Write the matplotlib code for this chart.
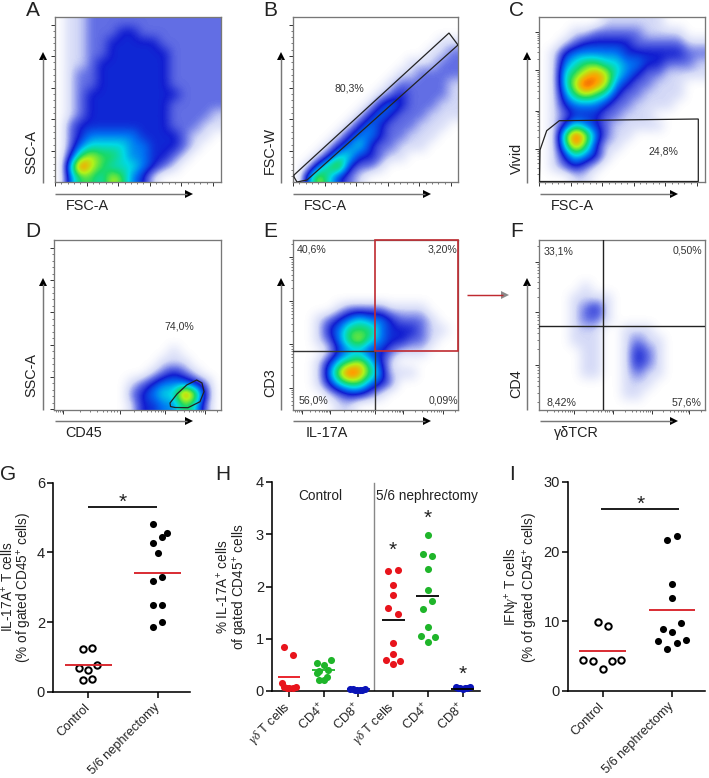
import numpy as np
import matplotlib
matplotlib.use("Agg")
import matplotlib.pyplot as plt
from matplotlib.colors import LinearSegmentedColormap
from matplotlib.patches import Polygon, Rectangle

plt.rcParams['font.family'] = ['Liberation Sans', 'DejaVu Sans']
plt.rcParams['mathtext.fontset'] = 'custom'
plt.rcParams['mathtext.rm'] = 'Liberation Sans'
plt.rcParams['mathtext.it'] = 'Liberation Serif:italic'
plt.rcParams['mathtext.default'] = 'regular'

# ---- flow cytometry density levels (0 empty .. 9 peak)
DENS_A = ["0112222222222222", "0112223322222222", "0112233333222222", "0112233333322222",
          "0112333333322222", "0122333333322222", "0122333333322222", "0123333333332222",
          "0123333333322222", "0123333333322221", "0233333333322211", "0234444433332110",
          "0245555443332100", "0367665443321000", "0597655543210000", "0466576431000000"]
DENS_B = ["0000000000000000", "0000000000000000", "0000000000000011", "0000000000000112",
          "0000000000011122", "0000000000112222", "0000000001222221", "0000000012322221",
          "0000000134322211", "0000001343222111", "0000013432221110", "0000134432211100",
          "0001345322111000", "0013553321100000", "0146732210000000", "0475321000000000"]
DENS_C = ["0000001111110000", "0001122222111100", "0012333332222211", "0134444433333322",
          "0145665544332221", "0156787543221111", "0157987432211100", "0146765322111100",
          "0134443221111000", "0123332211100000", "0135432111110000", "0169742110000000",
          "0158631100000000", "0135431000000000", "0123210000000000", "0001100000000000"]
DENS_D = ["0000000000000000"] * 10 + [
          "0000000000010000", "0000000000111000", "0000000001232100",
          "0000000123444320", "0000000234559730", "0000000133446520"]
DENS_E = ["0000000000000000"] * 6 + [
          "0000122221111000", "0012345443222100", "0013466643332110", "0012467543322100",
          "0001344332111000", "0013567531000000", "0014798641110000", "0013566432000000",
          "0001233210000000", "0000110000000000"]
DENS_F = ["0000000000000000"] * 4 + [
          "0000100000000000", "0001111000000000", "0001231000000000", "0001221000000000",
          "0001110011100000", "0001110012110000", "0000110013210000", "0000110013210000",
          "0000110012110000", "0000000011100000", "0000000011000000", "0000000000000000"]

# ---- panel G
G_ctrl_off = [-0.07, 0.06, -0.14, 0.13, 0.0, -0.07, 0.06]
G_ctrl_val = [1.24, 1.26, 0.68, 0.76, 0.61, 0.33, 0.36]
G_neph_off = [-0.067, 0.135, 0.067, -0.067, 0.0, 0.067, -0.067, -0.067, 0.067, 0.067, -0.067]
G_neph_val = [4.81, 4.55, 4.43, 4.27, 3.98, 3.28, 3.19, 2.50, 2.49, 1.99, 1.85]
G_means = [0.76, 3.40]
G_cats = ["Control", "5/6 nephrectomy"]

# ---- panel H
H_gd_c_off = [-0.14, 0.125, -0.21, -0.14, -0.07, 0.0, 0.125, 0.2]
H_gd_c_val = [0.84, 0.68, 0.16, 0.08, 0.06, 0.06, 0.06, 0.08]
H_cd4_c_off = [-0.2, 0.2, 0.0, -0.13, 0.13, -0.13, 0.0, 0.1, -0.2]
H_cd4_c_val = [0.54, 0.59, 0.50, 0.38, 0.40, 0.22, 0.22, 0.26, 0.34]
H_cd8_c_off = [-0.24, -0.17, -0.10, -0.03, 0.04, 0.11, 0.20]
H_cd8_c_val = [0.04, 0.03, 0.02, 0.02, 0.01, 0.02, 0.04]
H_gd_n_off = [-0.14, 0.13, 0.0, 0.0, -0.14, 0.13, 0.0, 0.0, -0.21, 0.19, 0.0]
H_gd_n_val = [2.30, 2.31, 2.03, 1.84, 1.58, 1.48, 0.92, 0.70, 0.59, 0.58, 0.51]
H_cd4_n_off = [0.0, -0.13, 0.13, 0.0, 0.0, 0.13, -0.13, 0.0, -0.2, 0.2, 0.0]
H_cd4_n_val = [2.99, 2.63, 2.58, 2.33, 1.93, 1.72, 1.56, 1.22, 1.06, 1.03, 0.94]
H_cd8_n_off = [-0.2, -0.13, -0.07, 0.0, 0.07, 0.13, 0.2]
H_cd8_n_val = [0.08, 0.06, 0.05, 0.03, 0.05, 0.06, 0.08]
H_means = [0.27, 0.40, 0.03, 1.35, 1.82, 0.04]
H_cats = [r"$\mathit{\gamma\delta}$ T cells", r"CD4$^{+}$", r"CD8$^{+}$"] * 2

# ---- panel I
I_ctrl_off = [-0.07, 0.07, -0.275, -0.14, 0.135, 0.27, 0.0]
I_ctrl_val = [9.9, 9.33, 4.45, 4.35, 4.30, 4.45, 3.16]
I_neph_off = [0.065, -0.07, 0.0, 0.0, 0.13, -0.14, 0.0, -0.21, 0.2, 0.065, -0.07]
I_neph_val = [22.2, 21.7, 15.3, 13.35, 9.8, 8.95, 8.4, 7.13, 7.37, 6.94, 6.08]
I_means = [5.74, 11.6]

RED, GREEN, BLUE = '#e8141c', '#1fb52a', '#0a14b8'
LINE_RED = '#d8232a'
TXT = '#222222'

W, H = 709, 778
fig = plt.figure(figsize=(W / 100, H / 100), dpi=100, facecolor='white')

facs_cmap = LinearSegmentedColormap.from_list('facs', [
    (1, 1, 1), (0.84, 0.86, 0.97), (0.40, 0.45, 0.90), (0.07, 0.12, 0.82), (0.0, 0.45, 0.95),
    (0.0, 0.85, 0.90), (0.10, 0.85, 0.40), (0.70, 0.95, 0.10), (1.0, 0.62, 0.0), (0.90, 0.15, 0.05)])


def px_axes(x0, y0, x1, y1):
    return fig.add_axes([x0 / W, 1 - y1 / H, (x1 - x0) / W, (y1 - y0) / H])


def lin_ticks(start, step, n):
    major = [start + step * i for i in range(n)]
    minor = [start + step * i / 5 for i in range(5 * (n - 1) + 1)]
    return major, minor


def log_ticks(major):
    minor = []
    for a, b in zip(major[:-1], major[1:]):
        minor += [a + (b - a) * np.log10(k) for k in range(2, 10)]
    return major, minor


def facs(box, dens, xt, yt):
    x0, y0, x1, y1 = box
    ax = px_axes(x0, y0, x1, y1)
    grid = np.array([[int(c) for c in r] for r in dens], float)
    ax.imshow(grid, extent=(x0, x1, y1, y0), cmap=facs_cmap, vmin=0, vmax=8.7,
              interpolation='bicubic', aspect='auto')
    ax.set_xlim(x0, x1)
    ax.set_ylim(y1, y0)
    ax.set_xticks([t for t in xt[0] if x0 <= t <= x1])
    ax.set_xticks([t for t in xt[1] if x0 <= t <= x1], minor=True)
    ax.set_yticks([t for t in yt[0] if y0 <= t <= y1])
    ax.set_yticks([t for t in yt[1] if y0 <= t <= y1], minor=True)
    ax.tick_params(which='major', length=3, width=0.7, color='#333333', labelbottom=False, labelleft=False)
    ax.tick_params(which='minor', length=1.6, width=0.5, color='#444444')
    for s in ax.spines.values():
        s.set_color('#777777')
        s.set_linewidth(0.95)
    return ax


bA, bB, bC = (55, 17, 221, 182), (293, 17, 458, 182), (539, 17, 705, 182)
bD, bE, bF = (54, 240, 221, 410), (293, 240, 458, 410), (539, 240, 705, 410)

axA = facs(bA, DENS_A, lin_ticks(55, 31.6, 6), lin_ticks(182.5, -31.6, 6))
axB = facs(bB, DENS_B, lin_ticks(293, 31.6, 6), lin_ticks(182.5, -31.6, 6))
axC = facs(bC, DENS_C, lin_ticks(539, 31.6, 6), log_ticks([198, 148.5, 110.5, 70, 32]))
axD = facs(bD, DENS_D, log_ticks([33, 63, 120, 165, 205, 245]), lin_ticks(409.3, -32.3, 6))
axE = facs(bE, DENS_E, log_ticks([272, 302, 330, 375, 403, 443, 483]), log_ticks([431, 387.7, 344.3, 301, 257.3, 214]))
axF = facs(bF, DENS_F, log_ticks([495, 535, 574, 613.3, 651.7, 689.3, 727]), log_ticks([418, 365, 312.3, 261.7, 211]))

GATE = dict(closed=True, fill=False, edgecolor='#222222', linewidth=0.9, zorder=5)
axB.add_patch(Polygon([(294, 175), (449, 33), (458, 45), (307, 180), (297, 182), (294, 177)], **GATE))
axC.add_patch(Polygon([(540, 150), (546.7, 130.7), (559.3, 120.7), (698.3, 119), (698.3, 181.5), (539.5, 181.5)], **GATE))
axD.add_patch(Polygon([(170, 403), (177, 394), (186.7, 385), (196.7, 380), (202, 383), (204, 391.7),
                       (200, 401.7), (188, 407.7), (175, 407.5), (170.5, 406.5)], **GATE))
axE.plot([293, 375], [351, 351], color='#333333', lw=1.0, zorder=5)
axE.plot([375, 375], [351, 410], color='#333333', lw=1.0, zorder=5)
axE.add_patch(Rectangle((375, 240), 83, 111, fill=False, edgecolor='#bf2a30', linewidth=1.2, zorder=6, clip_on=False))
axF.axvline(603, color='#222222', lw=1.0, zorder=5)
axF.axhline(325.7, color='#222222', lw=1.0, zorder=5)

# overlay in pixel coordinates
ov = fig.add_axes([0, 0, 1, 1], zorder=10)
ov.set_xlim(0, W)
ov.set_ylim(H, 0)
ov.axis('off')
ov.patch.set_alpha(0)


def h_arrow(x0, x1, y, line='#777777', head='black'):
    ov.plot([x0, x1 - 6], [y, y], color=line, lw=1.05, solid_capstyle='butt')
    ov.add_patch(Polygon([(x1 - 8, y - 4), (x1, y), (x1 - 8, y + 4)], color=head, lw=0))


def v_arrow(x, y0, y1):
    ov.plot([x, x], [y0, y1 + 6], color='#777777', lw=1.05, solid_capstyle='butt')
    ov.add_patch(Polygon([(x - 4, y1 + 8), (x, y1), (x + 4, y1 + 8)], color='black', lw=0))


for x0, x1, y in [(55, 193, 194), (293, 431, 194), (540, 678, 194),
                  (55, 193, 421), (293, 431, 421), (540, 678, 421)]:
    h_arrow(x0, x1, y)
for x, y0, y1 in [(43, 183, 52), (281, 183, 52), (527, 183, 52),
                  (43, 410, 278), (281, 410, 278), (527, 410, 278)]:
    v_arrow(x, y0, y1)

h_arrow(467, 509, 295, line='#bf2a30', head='#8a8a8a')

for s, x, y in [("FSC-A", 87, 206), ("FSC-A", 325, 206), ("FSC-A", 572, 206),
                ("CD45", 84, 433), ("IL-17A", 327, 433), ("γδTCR", 576, 433)]:
    ov.text(x, y, s, ha='center', va='center', fontsize=10.4, color=TXT)
for s, x, y in [("SSC-A", 31, 152), ("FSC-W", 270, 150), ("Vivid", 517, 158),
                ("SSC-A", 31, 375), ("CD3", 270, 383), ("CD4", 516, 384)]:
    ov.text(x, y, s, ha='center', va='center', rotation=90, fontsize=10.4, color=TXT)
for s, x, y in [("A", 33, 10), ("B", 270, 10), ("C", 517, 10), ("D", 33, 231), ("E", 270, 231),
                ("F", 517, 231), ("G", 8, 474), ("H", 223, 474), ("I", 512, 474)]:
    ov.text(x, y, s, ha='center', va='center', fontsize=15, color=TXT)
for s, x, y in [("80,3%", 349, 88), ("24,8%", 663, 151), ("74,0%", 179, 326),
                ("40,6%", 312, 249), ("3,20%", 442, 249), ("0,09%", 443, 400), ("56,0%", 313, 400),
                ("33,1%", 559, 251), ("0,50%", 687, 250), ("8,42%", 561, 402), ("57,6%", 687, 402)]:
    ov.text(x, y, s, ha='center', va='center', fontsize=7.6, color='#333333')


def prism(box, ymax, yticks, xt, xlim, cats):
    ax = px_axes(*box)
    ax.set_xlim(*xlim)
    ax.set_ylim(0, ymax)
    ax.set_yticks(yticks)
    ax.set_xticks(xt)
    ax.set_xticklabels(cats, rotation=45, ha='right', va='center', rotation_mode='anchor',
                       fontsize=9.2, color=TXT)
    ax.tick_params(axis='y', labelsize=10.5, length=4, width=1.1, pad=2, labelcolor=TXT)
    ax.tick_params(axis='x', length=4, width=1.1, pad=6)
    for s in ('top', 'right'):
        ax.spines[s].set_visible(False)
    for s in ('left', 'bottom'):
        ax.spines[s].set_linewidth(1.15)
    ax.patch.set_alpha(0)
    return ax


def dots(ax, c, off, val, color='black', open_=False, ms=5.1):
    xs = [c + o for o in off]
    if open_:
        ax.plot(xs, val, 'o', ms=4.6, mfc='white', mec=color, mew=1.45, clip_on=False, zorder=3, ls='none')
    else:
        ax.plot(xs, val, 'o', ms=ms, mfc=color, mec=color, mew=0, clip_on=False, zorder=3, ls='none')


def hline(ax, c, half, y, color=LINE_RED, lw=1.35):
    ax.plot([c - half, c + half], [y, y], color=color, lw=lw, zorder=4, solid_capstyle='butt')


STAR = dict(ha='center', va='center', fontsize=15, color=TXT)

# G
axG = prism((53.3, 482.7, 190, 691.7), 6, [0, 2, 4, 6], [0, 1], (-0.504, 1.465), G_cats)
dots(axG, 0, G_ctrl_off, G_ctrl_val, open_=True)
dots(axG, 1, G_neph_off, G_neph_val)
hline(axG, 0, 0.337, G_means[0])
hline(axG, 1, 0.335, G_means[1])
axG.plot([0, 0.985], [5.29, 5.29], color='black', lw=1.25, solid_capstyle='butt')
axG.text(0.49, 5.44, "*", **STAR)

# H
axH = prism((272.3, 482, 480, 691), 4, [0, 1, 2, 3, 4], list(range(6)), (-0.48, 5.5), H_cats)
dots(axH, 0, H_gd_c_off, H_gd_c_val, RED)
dots(axH, 1, H_cd4_c_off, H_cd4_c_val, GREEN)
dots(axH, 2, H_cd8_c_off, H_cd8_c_val, BLUE)
dots(axH, 3, H_gd_n_off, H_gd_n_val, RED)
dots(axH, 4, H_cd4_n_off, H_cd4_n_val, GREEN)
dots(axH, 5, H_cd8_n_off, H_cd8_n_val, BLUE)
for i, (m, col) in enumerate(zip(H_means, [RED, GREEN, BLUE, 'black', 'black', 'black'])):
    hline(axH, i, 0.33, m, color=col, lw=1.3)
axH.plot([2.44, 2.44], [0, 3.98], color='#888888', lw=1.0, zorder=1)
axH.text(0.91, 3.73, "Control", ha='center', va='center', fontsize=9.8, color=TXT)
axH.text(3.97, 3.73, "5/6 nephrectomy", ha='center', va='center', fontsize=9.8, color=TXT)
for x, y in [(3, 2.69), (4, 3.31), (5, 0.32)]:
    axH.text(x, y, "*", **STAR)

# I
axI = prism((568.3, 482, 705, 691), 30, [0, 10, 20, 30], [0, 1], (-0.493, 1.469), G_cats)
dots(axI, 0, I_ctrl_off, I_ctrl_val, open_=True)
dots(axI, 1, I_neph_off, I_neph_val)
hline(axI, 0, 0.335, I_means[0])
hline(axI, 1, 0.33, I_means[1])
axI.plot([-0.02, 1.1], [26.1, 26.1], color='black', lw=1.25, solid_capstyle='butt')
axI.text(0.54, 26.8, "*", **STAR)

for s, x in [(r"IL-17A$^{+}$ T cells", 8), (r"(% of gated CD45$^{+}$ cells)", 25),
             (r"% IL-17A$^{+}$ cells", 223), (r"of gated CD45$^{+}$ cells", 240),
             (r"IFN$\mathit{\gamma}^{+}$ T cells", 513), (r"(% of gated CD45$^{+}$ cells)", 531)]:
    ov.text(x, 587, s, rotation=90, ha='center', va='center', fontsize=9.8, color=TXT)

fig.savefig('out.png', dpi=100)
